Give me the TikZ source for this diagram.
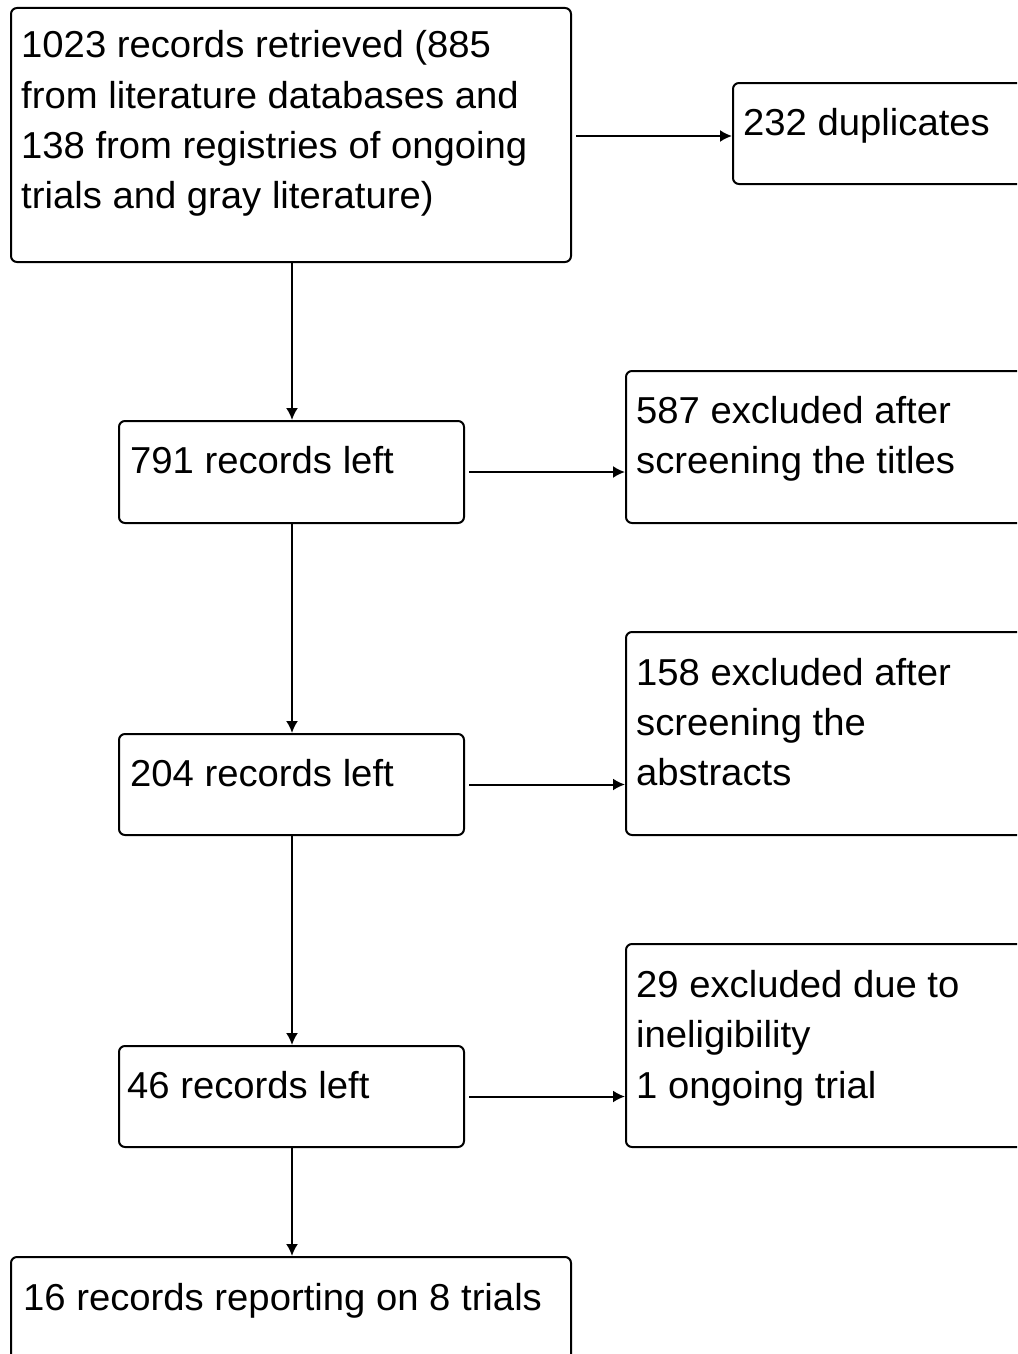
\documentclass[tikz,border=0pt]{standalone}
\usepackage{fontspec}
\setmainfont{Liberation Sans}[FakeStretch=1.02]
\usetikzlibrary{arrows.meta}
\begin{document}
\begin{tikzpicture}[x=1pt,y=-1pt,
  box/.style={draw=black,line width=2pt,rounded corners=6pt,inner sep=0pt,fill=none},
  txt/.style={anchor=base west,inner sep=0pt,font=\fontsize{37.5}{50}\selectfont,text=black},
  arr/.style={draw=black,line width=2pt,-{Latex[length=12pt,width=12pt]}}]
\clip (0,0) rectangle (1017,1354);
\fill[white] (0,0) rectangle (1017,1354);
\coordinate (col) at (292,0);
% main column boxes
\node[box,minimum width=560pt,minimum height=254pt] (b1) at (291,135) {};
\node[box,minimum width=345pt,minimum height=102pt] (b2) at (291.5,472) {};
\node[box,minimum width=345pt,minimum height=101pt] (b3) at (291.5,784.5) {};
\node[box,minimum width=345pt,minimum height=101pt] (b4) at (291.5,1096.5) {};
\node[box,minimum width=560pt,minimum height=160pt] (b5) at (291,1337) {};
% side boxes (cut at right edge)
\node[box,minimum width=400pt,minimum height=101pt] (d1) at (933,133.5) {};
\node[box,minimum width=500pt,minimum height=152pt] (d2) at (876,447) {};
\node[box,minimum width=500pt,minimum height=203pt] (d3) at (876,733.5) {};
\node[box,minimum width=500pt,minimum height=203pt] (d4) at (876,1045.5) {};
% texts
\node[txt] (t1a) at (21,58) {1023 records retrieved (885};
\node[txt] (t1b) at (21,108) {from literature databases and};
\node[txt] (t1c) at (21,158) {138 from registries of ongoing};
\node[txt] (t1d) at (21,208) {trials and gray literature)};
\node[txt] (t2) at (130,473) {791 records left};
\node[txt] (t3) at (130,786) {204 records left};
\node[txt] (t4) at (127,1098) {46 records left};
\node[txt] (t5) at (23,1310) {16 records reporting on 8 trials};
\node[txt] (s1) at (743,135) {232 duplicates};
\node[txt] (s2a) at (636,423) {587 excluded after};
\node[txt] (s2b) at (636,473) {screening the titles};
\node[txt] (s3a) at (636,685) {158 excluded after};
\node[txt] (s3b) at (636,735) {screening the};
\node[txt] (s3c) at (636,785) {abstracts};
\node[txt] (s4a) at (636,997) {29 excluded due to};
\node[txt] (s4b) at (636,1047) {ineligibility};
\node[txt] (s4c) at (636,1098) {1 ongoing trial};
% vertical arrows
\draw[arr] (b1.south -| col) -- (b2.north -| col);
\draw[arr] (b2.south -| col) -- (b3.north -| col);
\draw[arr] (b3.south -| col) -- (b4.north -| col);
\draw[arr] (b4.south -| col) -- (b5.north -| col);
% horizontal arrows
\coordinate (h1) at ([xshift=4pt]b1.east |- 0,136);
\draw[arr] (h1) -- (h1 -| d1.west);
\coordinate (h2) at ([xshift=4pt]b2.east);
\draw[arr] (h2) -- (h2 -| d2.west);
\coordinate (h3) at ([xshift=4pt]b3.east);
\draw[arr] (h3) -- (h3 -| d3.west);
\coordinate (h4) at ([xshift=4pt]b4.east);
\draw[arr] (h4) -- (h4 -| d4.west);
\end{tikzpicture}
\end{document}
